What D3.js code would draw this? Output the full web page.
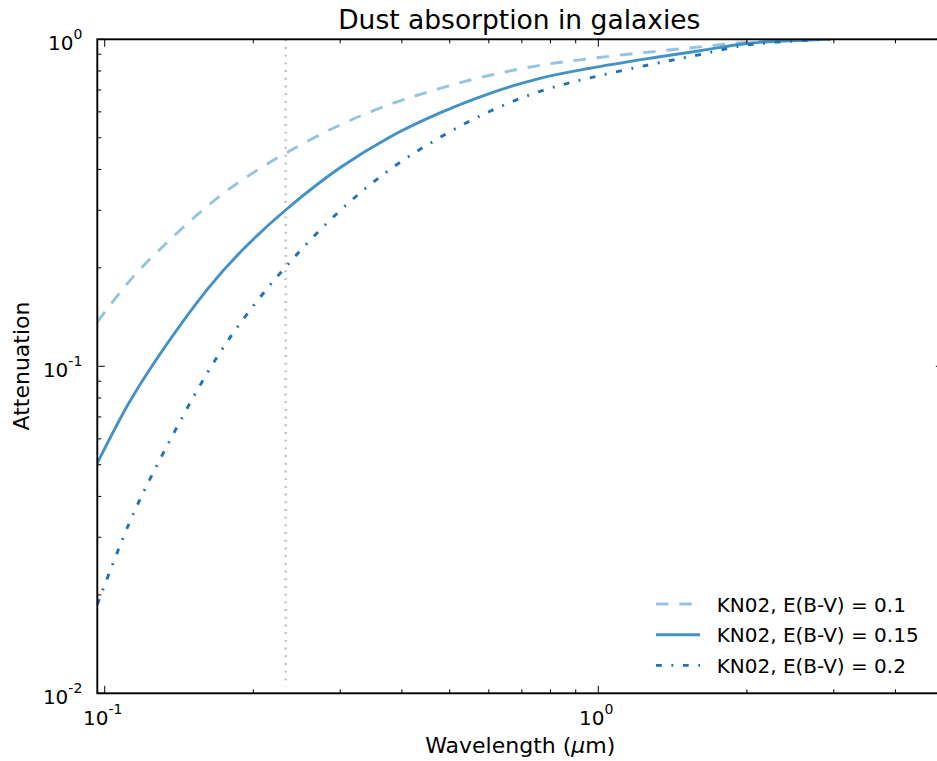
<!DOCTYPE html>
<html>
<head>
<meta charset="utf-8">
<script src="https://cdn.jsdelivr.net/npm/d3@7"></script>
<style>
  body { margin: 0; background: #fff; }
  text { font-family: "DejaVu Sans", sans-serif; fill: #000; }
</style>
</head>
<body>
<script>
// wavelengths (micron) where the curves were read
const wavelength = [0.0966, 0.1117, 0.1245, 0.162, 0.1895, 0.2326, 0.2997, 0.3784, 0.4778, 0.6035, 0.762, 0.962, 1.273, 1.607, 2.03, 2.95];
// attenuation, one array per E(B-V)
const att010 = [0.1368, 0.1807, 0.2153, 0.3105, 0.3707, 0.4487, 0.547, 0.6324, 0.7079, 0.7762, 0.8327, 0.873, 0.9147, 0.9478, 0.9815, 1.0];
const att015 = [0.0506, 0.0768, 0.0999, 0.173, 0.2257, 0.3006, 0.4046, 0.5029, 0.5957, 0.6839, 0.7598, 0.8155, 0.875, 0.9227, 0.9724, 1.0];
const att020 = [0.0187, 0.0327, 0.0463, 0.0964, 0.1374, 0.2014, 0.2992, 0.3999, 0.5012, 0.6026, 0.6934, 0.7621, 0.8368, 0.8981, 0.9634, 1.0];
const seriesNames = ["KN02, E(B-V) = 0.1", "KN02, E(B-V) = 0.15", "KN02, E(B-V) = 0.2"];
const refWavelength = 0.2326;
const xMajor = [0.1, 1];
const yMajor = [0.01, 0.1, 1];

const width = 937, height = 761;
const pLeft = 97.3, pRight = 943.3, pTop = 39.3, pBottom = 693.3;

const svg = d3.select("body").append("svg")
  .attr("width", width)
  .attr("height", height);

const x = d3.scaleLog().domain([0.0966, 5]).range([pLeft, pRight]);
const y = d3.scaleLog().domain([0.01, 1]).range([pBottom, pTop]);

svg.append("clipPath").attr("id", "plot")
  .append("rect")
  .attr("x", pLeft).attr("y", pTop)
  .attr("width", pRight - pLeft).attr("height", pBottom - pTop);

const g = svg.append("g").attr("clip-path", "url(#plot)");

// vertical dotted reference line
g.append("line")
  .attr("x1", x(refWavelength)).attr("x2", x(refWavelength))
  .attr("y1", y(1)).attr("y2", y(0.0105))
  .attr("stroke", "#c8c8c8")
  .attr("stroke-width", 2.9)
  .attr("stroke-dasharray", "1.9,5.8");

const series = [
  { name: seriesNames[0], values: att010, color: "#94c4df", dash: "12.5,10.8" },
  { name: seriesNames[1], values: att015, color: "#4292c6", dash: null },
  { name: seriesNames[2], values: att020, color: "#2171b5", dash: "5.8,9.6,1.9,9.6" }
];

const line = d3.line()
  .x((d, i) => x(wavelength[i]))
  .y(d => y(d))
  .curve(d3.curveCatmullRom.alpha(0.5));

g.selectAll("path.series")
  .data(series)
  .enter()
  .append("path")
  .attr("class", "series")
  .attr("fill", "none")
  .attr("stroke", d => d.color)
  .attr("stroke-width", 2.9)
  .attr("stroke-dasharray", d => d.dash)
  .attr("d", d => line(d.values));

// frame
svg.append("rect")
  .attr("x", pLeft).attr("y", pTop)
  .attr("width", pRight - pLeft).attr("height", pBottom - pTop)
  .attr("fill", "none")
  .attr("stroke", "#000")
  .attr("stroke-width", 1.9);

// ticks pointing inward on all four sides
const xMinor = [];
const yMinor = [];
[0.1, 1].forEach(b => d3.range(2, 10).forEach(k => xMinor.push(b * k)));
[0.01, 0.1].forEach(b => d3.range(2, 10).forEach(k => yMinor.push(b * k)));
const xTicks = xMajor.map(v => ({ v, len: 7.5 })).concat(xMinor.filter(v => v < 5).map(v => ({ v, len: 4 })));
const yTicks = yMajor.map(v => ({ v, len: 7.5 })).concat(yMinor.map(v => ({ v, len: 4 })));

const ticks = svg.append("g").attr("stroke", "#000").attr("stroke-width", 1);
xTicks.forEach(t => {
  ticks.append("line").attr("x1", x(t.v)).attr("x2", x(t.v)).attr("y1", pBottom).attr("y2", pBottom - t.len);
  ticks.append("line").attr("x1", x(t.v)).attr("x2", x(t.v)).attr("y1", pTop).attr("y2", pTop + t.len);
});
yTicks.forEach(t => {
  ticks.append("line").attr("y1", y(t.v)).attr("y2", y(t.v)).attr("x1", pLeft).attr("x2", pLeft + t.len);
  ticks.append("line").attr("y1", y(t.v)).attr("y2", y(t.v)).attr("x1", pRight).attr("x2", pRight - t.len);
});

// tick labels as powers of ten
function powLabel(sel, v) {
  const e = Math.round(Math.log10(v));
  sel.append("tspan").text("10");
  sel.append("tspan").attr("dy", -11).attr("font-size", 14).text(e);
}
xMajor.forEach(v => {
  svg.append("text")
    .attr("x", x(v) - 2).attr("y", pBottom + 32)
    .attr("text-anchor", "middle")
    .attr("font-size", 20)
    .call(powLabel, v);
});
yMajor.forEach(v => {
  svg.append("text")
    .attr("x", pLeft - 15).attr("y", y(v) + 10.7)
    .attr("text-anchor", "end")
    .attr("font-size", 20)
    .call(powLabel, v);
});

// title and axis labels
svg.append("text")
  .attr("x", (pLeft + pRight) / 2 - 1).attr("y", 29)
  .attr("text-anchor", "middle")
  .attr("font-size", 26.5)
  .text("Dust absorption in galaxies");

const xl = svg.append("text")
  .attr("x", (pLeft + pRight) / 2).attr("y", 753)
  .attr("text-anchor", "middle")
  .attr("font-size", 22);
xl.append("tspan").text("Wavelength (");
xl.append("tspan").attr("font-style", "italic").text("μ");
xl.append("tspan").text("m)");

svg.append("text")
  .attr("transform", "translate(29,366) rotate(-90)")
  .attr("text-anchor", "middle")
  .attr("font-size", 22)
  .text("Attenuation");

// legend
const legend = svg.append("g");
series.forEach((s, i) => {
  const base = 611.7 + i * 30.7;
  legend.append("line")
    .attr("x1", 656).attr("x2", 700)
    .attr("y1", base - 7.7).attr("y2", base - 7.7)
    .attr("stroke", s.color)
    .attr("stroke-width", 2.9)
    .attr("stroke-dasharray", s.dash);
  legend.append("text")
    .attr("x", 716.7).attr("y", base)
    .attr("font-size", 20)
    .text(s.name);
});
</script>
</body>
</html>
